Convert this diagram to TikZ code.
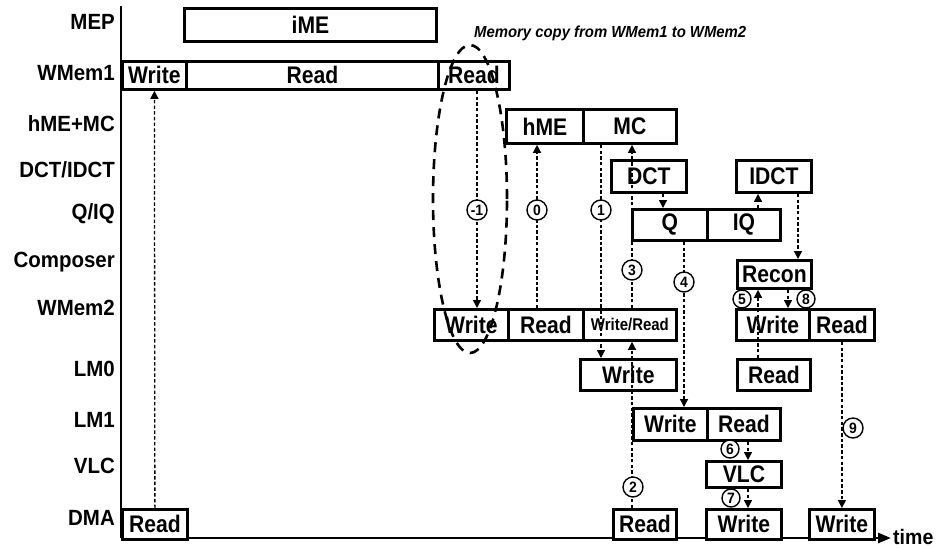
\documentclass[tikz,border=0pt]{standalone}
\usepackage{fontspec}
\newfontfamily\nf{Liberation Sans}[FakeStretch=0.93]
\newfontfamily\nfn{Liberation Sans}[FakeStretch=0.88]
\usetikzlibrary{arrows.meta,shapes.geometric}
\newcommand\bx[6]{\node[bx,anchor=north west,minimum width={#4-#2},minimum height={#5-#3}] (#1) at (#2,#3) {#6};}
\begin{document}
\begin{tikzpicture}[x=1pt,y=-1pt,
  lab/.style={anchor=east,inner sep=0,font=\nf\bfseries\fontsize{22}{22}\selectfont},
  bx/.style={draw,line width=2.8pt,fill=white,inner sep=0,font=\nfn\bfseries\fontsize{24}{24}\selectfont},
  conn/.style={line width=1.3pt,dash pattern=on 3.5pt off 2.2pt,-{Triangle[length=8pt,width=8pt]}},
  num/.style={circle,draw,line width=1.4pt,fill=white,inner sep=0,minimum size=20pt,font=\nf\bfseries\fontsize{15}{15}\selectfont},
  axis/.style={line width=2.8pt},
  copyell/.style={ellipse,draw,line width=2.6pt,dash pattern=on 10pt off 7pt,inner sep=0},
]
\useasboundingbox (0,0) rectangle (944,547);
% axes
\coordinate (atop) at (121,6);
\coordinate (aorig) at (121,538);
\coordinate (aend) at (891,538);
\draw[axis] (atop) -- (aorig);
\draw[axis,-{Triangle[length=13pt,width=10pt]}] (aorig) -- (aend);
\node[anchor=base west,inner sep=0,font=\nf\bfseries\fontsize{21}{21}\selectfont] (time) at (893,544) {time};
% row labels
\node[lab] (lMEP) at (115,22) {MEP};
\node[lab] (lW1) at (115,73) {WMem1};
\node[lab] (lHM) at (115,124) {hME+MC};
\node[lab] (lDCT) at (115,170) {DCT/IDCT};
\node[lab] (lQ) at (115,214) {Q/IQ};
\node[lab] (lCmp) at (115,262) {Composer};
\node[lab] (lW2) at (115,308) {WMem2};
\node[lab] (lLM0) at (115,369) {LM0};
\node[lab] (lLM1) at (115,420) {LM1};
\node[lab] (lVLC) at (115,466) {VLC};
\node[lab] (lDMA) at (115,518) {DMA};
% boxes
\bx{iME}{183}{7}{435}{40}{iME}
\bx{wW}{121}{60}{185}{88}{Write}
\bx{wR}{185}{60}{437}{88}{Read}
\bx{wR2}{437}{60}{508}{88}{Read}
\bx{hME}{505}{108}{582}{142}{hME}
\bx{MC}{582}{108}{675}{142}{MC}
\bx{DCT}{610}{159}{685}{191}{DCT}
\bx{IDCT}{735}{159}{810}{191}{IDCT}
\bx{Q}{631}{208}{706}{239}{Q}
\bx{IQ}{706}{208}{779}{239}{IQ}
\bx{Rec}{736}{259}{810}{287}{Recon}
\bx{wbW}{433}{308}{507}{339}{Write}
\bx{wbR}{507}{308}{582}{339}{Read}
\bx{wbWR}{582}{308}{675}{339}{\fontsize{17}{17}\selectfont Write/Read}
\bx{wbW2}{735}{308}{808}{339}{Write}
\bx{wbR2}{808}{308}{873}{339}{Read}
\bx{lzW}{579}{358}{675}{389}{Write}
\bx{lzR}{736}{358}{809}{389}{Read}
\bx{loW}{632}{407}{706}{439}{Write}
\bx{loR}{706}{407}{779}{439}{Read}
\bx{vlc}{705}{460}{780}{486}{VLC}
\bx{dR}{121}{508}{186}{538}{Read}
\bx{dR2}{612}{508}{675}{538}{Read}
\bx{dW}{705}{508}{780}{538}{Write}
\bx{dW2}{808}{508}{873}{538}{Write}
% connectors
\draw[conn] (dR.north) -- (wW.south);
\draw[conn] (wR2.south -| 477,0) -- (wbW.north -| 477,0);
\draw[conn] (wbR.north -| 537,0) -- (hME.south -| 537,0);
\draw[conn] (MC.south -| 601,0) -- (lzW.north -| 601,0);
\draw[conn] (dR2.north -| 632,0) -- (wbWR.south -| 632,0);
\draw[conn] (wbWR.north -| 632,0) -- (MC.south -| 632,0);
\draw[conn] (DCT.south -| 663,0) -- (Q.north -| 663,0);
\draw[conn] (IQ.north -| 758,0) -- (IDCT.south -| 758,0);
\draw[conn] (IDCT.south -| 798,0) -- (Rec.north -| 798,0);
\draw[conn] (Q.south -| 684,0) -- (loW.north -| 684,0);
\draw[conn] (lzR.north -| 758,0) -- (Rec.south -| 758,0);
\draw[conn] (Rec.south -| 788,0) -- (wbW2.north -| 788,0);
\draw[conn] (wbR2.south) -- (dW2.north);
\draw[conn] (loR.south -| 748,0) -- (vlc.north -| 748,0);
\draw[conn] (vlc.south -| 748,0) -- (dW.north -| 748,0);
% step numbers
\node[num] (nm1) at (477,210) {-1};
\node[num] (n0) at (537,210) {0};
\node[num] (n1) at (601,210) {1};
\node[num] (n2) at (633,487) {2};
\node[num] (n3) at (632,270) {3};
\node[num] (n4) at (684,282) {4};
\node[num,minimum size=18pt] (n5) at (742,299) {5};
\node[num,minimum size=18pt] (n8) at (806,299) {8};
\node[num,minimum size=18pt] (n6) at (730,449) {6};
\node[num,minimum size=18pt] (n7) at (731,498) {7};
\node[num] (n9) at (853,428) {9};
% memory copy
\node[copyell,minimum width=74pt,minimum height=308pt] (cpy) at (470,199) {};
\node[anchor=west,inner sep=0,font=\nf\bfseries\itshape\fontsize{16}{16}\selectfont] (memtxt) at (474,33) {Memory copy from WMem1 to WMem2};
\end{tikzpicture}
\end{document}
